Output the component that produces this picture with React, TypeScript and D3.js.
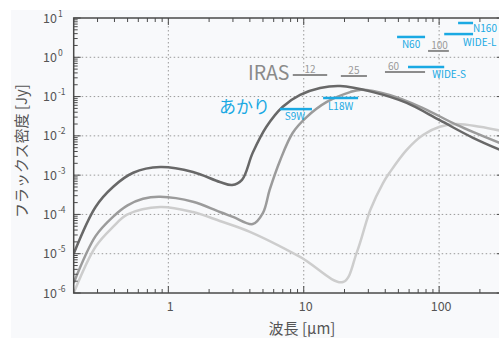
import React from 'react';
import * as d3 from 'd3';

// ---- data ----
const darkCurve: [number, number][] = [
  [0.2, 1.0e-5], [0.29, 1.55e-4], [0.39, 5e-4], [0.55, 1.15e-3], [0.87, 1.6e-3],
  [1.52, 1.2e-3], [2.4, 6.7e-4], [2.96, 5.6e-4], [3.5, 7.6e-4], [4.2, 3.7e-3],
  [5.3, 1.7e-2], [7.0, 5.5e-2], [9.4, 0.11], [13.2, 0.165], [18.6, 0.186],
  [32.5, 0.13], [57.6, 0.069], [101, 0.025], [178, 8.9e-3], [300, 4e-3],
];
const midCurve: [number, number][] = [
  [0.2, 1.8e-6], [0.29, 2.8e-5], [0.39, 8.7e-5], [0.5, 1.7e-4], [0.65, 2.5e-4],
  [0.87, 2.8e-4], [1.52, 2.1e-4], [2.4, 1.15e-4], [3.0, 8.7e-5], [4.2, 5.7e-5],
  [5.0, 1.1e-4], [5.6, 4.2e-4], [6.7, 2.4e-3], [8.3, 1.2e-2], [10.5, 3.0e-2],
  [14.8, 7.3e-2], [22, 0.13], [26, 0.148], [43, 0.11], [76, 0.051], [135, 0.019], [300, 6e-3],
];
const lightCurve: [number, number][] = [
  [0.2, 1e-6], [0.29, 1.5e-5], [0.39, 4.8e-5], [0.5, 1.0e-4], [0.87, 1.55e-4],
  [1.52, 1.15e-4], [2.4, 6.8e-5], [4.0, 3.6e-5], [9.4, 8.3e-6], [19.5, 1.9e-6],
  [24.7, 1.1e-5], [31, 1.3e-4], [38.5, 6.3e-4], [43, 1.15e-3], [57.6, 4.4e-3],
  [76, 1.05e-2], [101, 1.7e-2], [135, 2.0e-2], [200, 1.7e-2], [300, 1.3e-2],
];

// IRAS bands: name, lo, hi, flux
const irasNames = ['12', '25', '60', '100'];
const irasLo = [8.3, 18.8, 39.8, 82.8];
const irasHi = [14.9, 29.3, 78.7, 118];
const irasFlux = [0.355, 0.334, 0.42, 1.45];

// AKARI bands
const akariNames = ['S9W', 'L18W', 'WIDE-S', 'N60', 'WIDE-L', 'N160'];
const akariLo = [6.68, 13.9, 58.9, 48.9, 109, 138];
const akariHi = [11.5, 25.2, 109, 78.7, 178, 178];
const akariFlux = [0.048, 0.092, 0.57, 3.29, 3.9, 7.46];

const xMajorTicks = [1, 10, 100];
const xTickLabels = ['1', '10', '100'];
const yMajorExp = [-6, -5, -4, -3, -2, -1, 0, 1];

// ---- layout / style (not data) ----
const W = 499, H = 338;
const LEFT = 73.7, TOP = 18, BOTTOM = 293;
const DECADE = 135.4;
const RIGHT = LEFT + DECADE * Math.log10(300 / 0.2);
const FONT = '"Noto Sans CJK JP", "Noto Sans", sans-serif';
const CYAN = '#1aa9e3';
const AXIS = '#4a4a4a';
// label placement: [anchor, xref('c'|'l'|'r'), dx, dy]
const irasLabelPos: [string, string, number, number][] = [
  ['middle', 'c', 0, -2], ['middle', 'c', 0, -2], ['start', 'l', 3, -2], ['middle', 'c', 1, -2],
];
const akariLabelPos: [string, string, number, number][] = [
  ['middle', 'c', -1, 11], ['middle', 'c', 0, 12], ['start', 'r', -12, 11],
  ['middle', 'c', 0, 11], ['start', 'r', -10, 12], ['start', 'r', 0, 9],
];

export default function App() {
  const x = d3.scaleLog().domain([0.2, 300]).range([LEFT, RIGHT]);
  const y = d3.scaleLog().domain([1e-6, 10]).range([BOTTOM, TOP]);
  const line = d3
    .line<[number, number]>()
    .x((d) => x(d[0]))
    .y((d) => y(d[1]))
    .curve(d3.curveCatmullRom.alpha(0.5));

  const xTicks = x.ticks();
  const yTicks = y.ticks();
  const isPow10 = (v: number) => Math.abs(Math.log10(v) - Math.round(Math.log10(v))) < 1e-9;

  const ref = (lo: number, hi: number, k: string) =>
    k === 'c' ? (x(lo) + x(hi)) / 2 : k === 'l' ? x(lo) : x(hi);

  return (
    <svg
      width={W}
      height={H}
      style={{ position: 'absolute', left: 0, top: 0, display: 'block' }}
      fontFamily={FONT}
    >
      <rect x={0} y={0} width={W} height={H} fill="#ffffff" />
      <rect x={11} y={10} width={W - 11} height={H - 10} fill="#f8f9fb" />
      <defs>
        <clipPath id="plot">
          <rect x={LEFT} y={TOP} width={RIGHT - LEFT} height={BOTTOM - TOP} />
        </clipPath>
      </defs>

      {/* grid */}
      <g stroke="#9a9a9a" strokeWidth={1} strokeDasharray="1.5,2.5">
        {xMajorTicks.map((v) => (
          <line key={'gx' + v} x1={x(v)} x2={x(v)} y1={TOP} y2={BOTTOM} />
        ))}
        {yMajorExp
          .filter((e) => e > -6 && e < 1)
          .map((e) => (
            <line key={'gy' + e} x1={LEFT} x2={RIGHT} y1={y(Math.pow(10, e))} y2={y(Math.pow(10, e))} />
          ))}
      </g>

      {/* curves */}
      <g clipPath="url(#plot)" fill="none" strokeWidth={2.5} strokeLinejoin="round">
        <path d={line(lightCurve) || ''} stroke="#cdcdcd" />
        <path d={line(midCurve) || ''} stroke="#9b9b9b" />
        <path d={line(darkCurve) || ''} stroke="#686868" />
      </g>

      {/* ticks */}
      <g stroke={AXIS} strokeWidth={1}>
        {xTicks.map((v, i) => {
          const L = isPow10(v) ? 7 : 4;
          return (
            <g key={'xt' + i}>
              <line x1={x(v)} x2={x(v)} y1={BOTTOM} y2={BOTTOM - L} />
              <line x1={x(v)} x2={x(v)} y1={TOP} y2={TOP + L} />
            </g>
          );
        })}
        {yTicks.map((v, i) => {
          const L = isPow10(v) ? 7 : 4;
          return (
            <g key={'yt' + i}>
              <line x1={LEFT} x2={LEFT + L} y1={y(v)} y2={y(v)} />
              <line x1={RIGHT} x2={RIGHT - L} y1={y(v)} y2={y(v)} />
            </g>
          );
        })}
      </g>
      <rect x={LEFT} y={TOP} width={RIGHT - LEFT} height={BOTTOM - TOP} fill="none" stroke={AXIS} strokeWidth={1.5} />

      {/* tick labels */}
      <g fill="#555" fontSize={12.5}>
        {xMajorTicks.map((v, i) => (
          <text key={'xl' + v} x={x(v) + 2} y={311} textAnchor="middle">
            {xTickLabels[i]}
          </text>
        ))}
        {yMajorExp.map((e) => (
          <text key={'yl' + e} x={43} y={y(Math.pow(10, e)) + 4.5}>
            10
            <tspan dx={1} dy={-6} fontSize={8.5}>
              {e < 0 ? '-' + Math.abs(e) : String(e)}
            </tspan>
          </text>
        ))}
      </g>

      {/* axis titles */}
      <text x={302} y={334} textAnchor="middle" fontSize={15} fill="#555">
        波長 [μm]
      </text>
      <text
        transform={`translate(27,151) rotate(-90)`}
        textAnchor="middle"
        fontSize={15}
        fill="#555"
      >
        フラックス密度 [Jy]
      </text>

      {/* IRAS bands */}
      <text x={248} y={80} fontSize={19.5} fill="#8a8a8a">
        IRAS
      </text>
      <g>
        {irasNames.map((n, i) => (
          <g key={'ir' + n}>
            <line
              x1={x(irasLo[i])}
              x2={x(irasHi[i])}
              y1={y(irasFlux[i])}
              y2={y(irasFlux[i])}
              stroke="#8c8c8c"
              strokeWidth={2}
            />
            <text
              x={ref(irasLo[i], irasHi[i], irasLabelPos[i][1]) + irasLabelPos[i][2]}
              y={y(irasFlux[i]) + irasLabelPos[i][3]}
              textAnchor={irasLabelPos[i][0] as any}
              fontSize={10}
              fill="#9a9a9a"
            >
              {n}
            </text>
          </g>
        ))}
      </g>

      {/* AKARI bands */}
      <text x={219} y={113} fontSize={17} fill={CYAN}>
        あかり
      </text>
      <g>
        {akariNames.map((n, i) => (
          <g key={'ak' + n}>
            <line
              x1={x(akariLo[i])}
              x2={x(akariHi[i])}
              y1={y(akariFlux[i])}
              y2={y(akariFlux[i])}
              stroke={CYAN}
              strokeWidth={2.5}
            />
            <text
              x={ref(akariLo[i], akariHi[i], akariLabelPos[i][1]) + akariLabelPos[i][2]}
              y={y(akariFlux[i]) + akariLabelPos[i][3]}
              textAnchor={akariLabelPos[i][0] as any}
              fontSize={10}
              fill={CYAN}
            >
              {n}
            </text>
          </g>
        ))}
      </g>
    </svg>
  );
}
